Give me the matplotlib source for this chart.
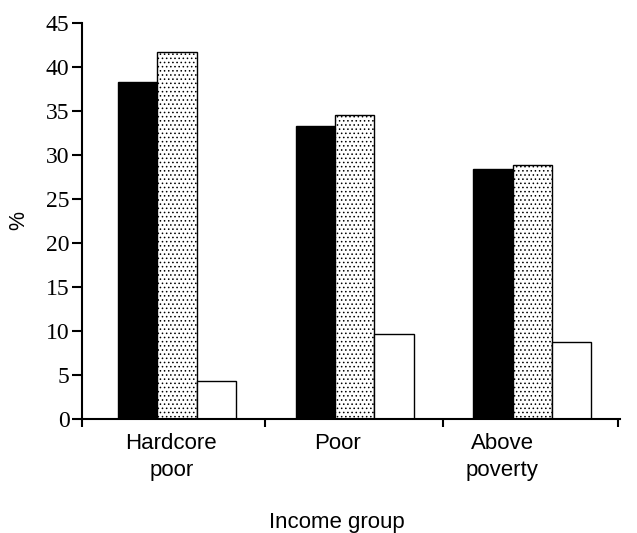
import matplotlib
matplotlib.use("Agg")
import matplotlib.pyplot as plt
import numpy as np

groups = ["Hardcore\npoor", "Poor", "Above\npoverty"]
series_black = [38.3, 33.3, 28.4]
series_dotted = [41.7, 34.5, 28.9]
series_white = [4.3, 9.7, 8.7]
y_ticks = [0, 5, 10, 15, 20, 25, 30, 35, 40, 45]

plt.rcParams['hatch.linewidth'] = 0.6

fig = plt.figure(figsize=(6.37, 5.33), dpi=100)
ax = fig.add_axes([0.1287, 0.214, 0.845, 0.743])

x = np.arange(len(groups)) * 0.993 + 0.032
w = 0.22
ax.bar(x - w, series_black, w, color="black", edgecolor="black", linewidth=1)
ax.bar(x, series_dotted, w, color="white", edgecolor="black", linewidth=1, hatch="....")
ax.bar(x + w, series_white, w, color="white", edgecolor="black", linewidth=1)

ax.set_xlim(-0.5, 2.51)
ax.set_ylim(0, 45)
ax.set_yticks(y_ticks)
ax.set_yticklabels([str(t) for t in y_ticks], family="Liberation Serif", fontsize=17)

# tick marks at group boundaries, labels sit a bit left of the bars
ax.set_xticks(np.array([-0.5, 0.524, 1.52, 2.5]), minor=True)
ax.set_xticks([0.0, 0.93, 1.85])
ax.set_xticklabels(groups, family="Liberation Sans", fontsize=16, linespacing=1.4)
ax.tick_params(axis="x", which="major", length=0, pad=10)
ax.tick_params(axis="x", which="minor", length=6, width=1.5, direction="out")
ax.tick_params(axis="y", length=7, width=1.5, direction="out", pad=2)

for s in ["top", "right"]:
    ax.spines[s].set_visible(False)
for s in ["left", "bottom"]:
    ax.spines[s].set_linewidth(1.5)

ax.set_ylabel("%", family="Liberation Sans", fontsize=15.5, labelpad=12)
fig.text(0.529, 0.02, "Income group", family="Liberation Sans", fontsize=16,
         ha="center", va="center")

fig.savefig("out.png", dpi=100)
